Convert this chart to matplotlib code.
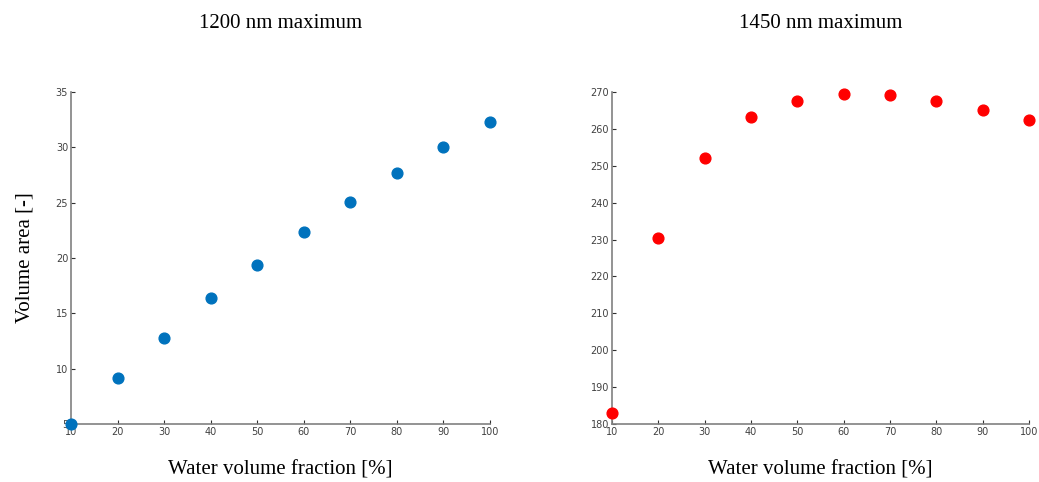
import matplotlib
matplotlib.use("Agg")
import matplotlib.pyplot as plt

water_frac = [10, 20, 30, 40, 50, 60, 70, 80, 90, 100]
area_1200 = [5.0, 9.15, 12.75, 16.35, 19.35, 22.35, 25.05, 27.7, 30.05, 32.25]
area_1450 = [183.0, 230.5, 252.0, 263.3, 267.5, 269.4, 269.1, 267.5, 265.0, 262.3]

serif = ["Liberation Serif", "DejaVu Serif"]
spine_col = "#808080"
tick_col = "#404040"

fig = plt.figure(figsize=(10.39, 4.82), dpi=100)
ax1 = fig.add_axes([0.0683, 0.1203, 0.4033, 0.6888])
ax2 = fig.add_axes([0.589, 0.1203, 0.4013, 0.6888])

def style(ax, ylim, yticks, title):
    ax.set_xlim(10, 100)
    ax.set_ylim(*ylim)
    ax.set_xticks(water_frac)
    ax.set_yticks(yticks)
    for s in ["top", "right"]:
        ax.spines[s].set_visible(False)
    for s in ["left", "bottom"]:
        ax.spines[s].set_color(spine_col)
        ax.spines[s].set_linewidth(1.2)
    ax.tick_params(direction="in", length=3, width=0.8, color="#303030",
                   labelsize=7, labelcolor=tick_col, pad=2)
    ax.set_title(title, fontsize=15, family=serif, pad=46)
    ax.set_xlabel("Water volume fraction [%]", fontsize=15, family=serif, labelpad=17)

style(ax1, (5, 35), [5, 10, 15, 20, 25, 30, 35], "1200 nm maximum")
style(ax2, (180, 270), list(range(180, 271, 10)), "1450 nm maximum")

ax1.scatter(water_frac, area_1200, s=60, color="#0072BD", clip_on=False, zorder=3)
ax2.scatter(water_frac, area_1450, s=60, color="#FF0000", clip_on=False, zorder=3)
ax1.set_ylabel("Volume area [-]", fontsize=15, family=serif, labelpad=15)

fig.savefig("out.png", dpi=100)
